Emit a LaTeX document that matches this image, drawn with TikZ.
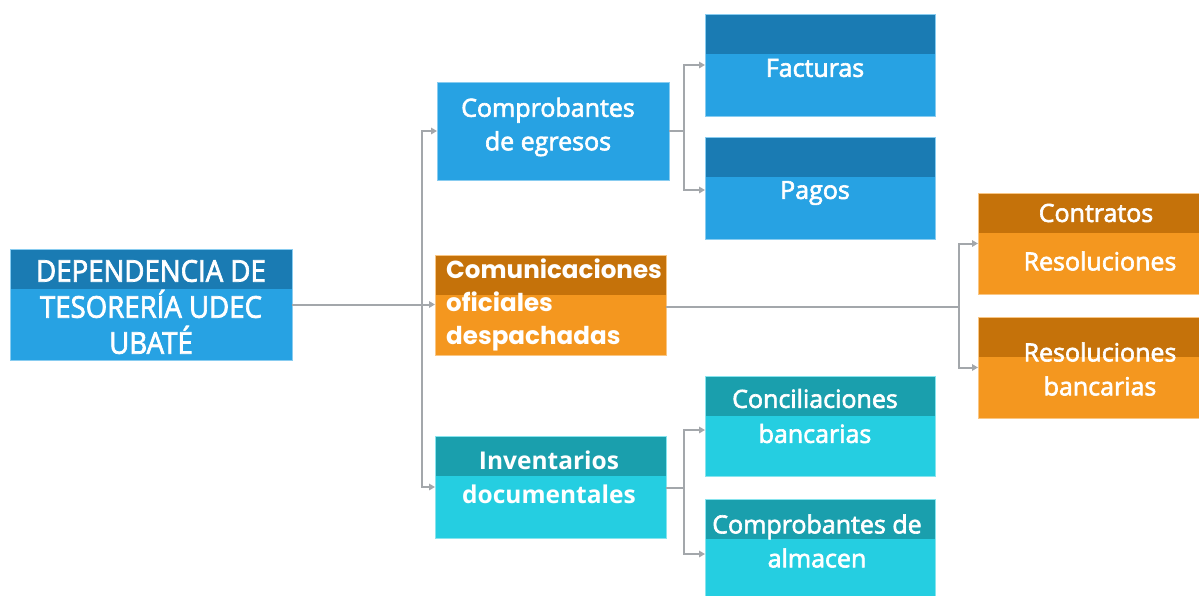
\documentclass[tikz,border=0pt]{standalone}
\usepackage{fontspec}
\setmainfont{Open Sans}
\newfontfamily\osemi{Open Sans}[FakeBold=2.5]
\newfontfamily\popp{Poppins}
\usetikzlibrary{arrows.meta}
\definecolor{bluL}{HTML}{27A2E3}
\definecolor{bluD}{HTML}{1A7BB3}
\definecolor{orL}{HTML}{F4971F}
\definecolor{orD}{HTML}{C5720A}
\definecolor{cyL}{HTML}{25CEE1}
\definecolor{cyD}{HTML}{1A9FAD}
\definecolor{connc}{HTML}{A3A7AB}
\begin{document}
\begin{tikzpicture}[x=1pt,y=-1pt,
  box/.style 2 args={inner sep=0pt, outer sep=0pt, anchor=north west, fill=#1,
     draw=#1!55!white, line width=0.8pt,
     path picture={\fill[#2] (path picture bounding box.north west) rectangle ([yshift=-39.5pt]path picture bounding box.north east);}},
  plainbox/.style={inner sep=0pt, outer sep=0pt, anchor=north west, fill=#1, draw=#1!55!white, line width=0.8pt},
  lbl/.style={text=white, align=center, inner sep=0pt, font=\osemi\fontsize{25}{33.5}\selectfont},
  conn/.style={draw=connc, line width=2pt},
  arr/.style={conn, -{Triangle[length=6pt,width=6.5pt]}}]
\useasboundingbox[fill=white] (0,0) rectangle (1199,595);

% boxes
\node[box={bluL}{bluD}, minimum width=282pt, minimum height=111pt] (main) at (10,249) {};
\node[plainbox=bluL, minimum width=232pt, minimum height=98pt] (comp) at (437,82) {};
\node[box={bluL}{bluD}, minimum width=230pt, minimum height=102pt] (fact) at (705,14) {};
\node[box={bluL}{bluD}, minimum width=230pt, minimum height=102pt] (pag) at (705,137) {};
\node[box={orL}{orD}, minimum width=231pt, minimum height=100pt] (comm) at (435,255) {};
\node[box={orL}{orD}, minimum width=226pt, minimum height=101pt] (contr) at (978,193) {};
\node[box={orL}{orD}, minimum width=226pt, minimum height=101pt] (resb) at (978,317) {};
\node[box={cyL}{cyD}, minimum width=231pt, minimum height=102pt] (inv) at (435,436) {};
\node[box={cyL}{cyD}, minimum width=230pt, minimum height=100pt] (conc) at (705,376) {};
\node[box={cyL}{cyD}, minimum width=230pt, minimum height=100pt] (alm) at (705,499) {};

% texts
\node[lbl, font=\osemi\fontsize{30}{36}\selectfont, xscale=0.92] (mainT) at (151,307) {DEPENDENCIA DE\\TESORERÍA UDEC\\UBATÉ};
\node[lbl] (compT) at (548,127) {Comprobantes\\de egresos};
\node[lbl] (factT) at (815,68) {Facturas};
\node[lbl] (pagT) at (815,193) {Pagos};
\node[lbl, align=left, anchor=west, font=\popp\bfseries\fontsize{24.6}{33}\selectfont] (commT) at (446,305) {Comunicaciones\\oficiales\\despachadas};
\node[lbl] (contrT) at (1096,213) {Contratos};
\node[lbl] (resT) at (1100,261) {Resoluciones};
\node[lbl, font=\osemi\fontsize{25}{34}\selectfont] (resbT) at (1100,369) {Resoluciones\\bancarias};
\node[lbl, font=\bfseries\fontsize{24.5}{34}\selectfont] (invT) at (549,477) {Inventarios\\documentales};
\node[lbl, font=\osemi\fontsize{25}{35}\selectfont] (concT) at (815,416) {Conciliaciones\\bancarias};
\node[lbl, font=\osemi\fontsize{25}{34}\selectfont] (almT) at (817,541) {Comprobantes de\\almacen};

% connectors
\coordinate (t1) at (422,304);
\draw[arr] (main.east) -- (main.east -| comm.west);
\draw[arr] (t1) |- (comp.west);
\draw[arr] (t1) |- (inv.west);

\coordinate (t2) at (684,131);
\draw[conn] (comp.east) -- (t2);
\draw[arr] (t2) |- (fact.west);
\draw[arr] (t2) |- ([yshift=-2pt]pag.west);

\coordinate (t3) at (959,307);
\draw[conn] (comm.east |- t3) -- (t3);
\draw[arr] (t3) |- (contr.west);
\draw[arr] (t3) |- (resb.west);

\coordinate (t4) at (684,488);
\draw[conn] (inv.east |- t4) -- (t4);
\draw[arr] (t4) |- ([yshift=-4pt]conc.west);
\draw[arr] (t4) |- ([yshift=-5pt]alm.west);
\end{tikzpicture}
\end{document}
